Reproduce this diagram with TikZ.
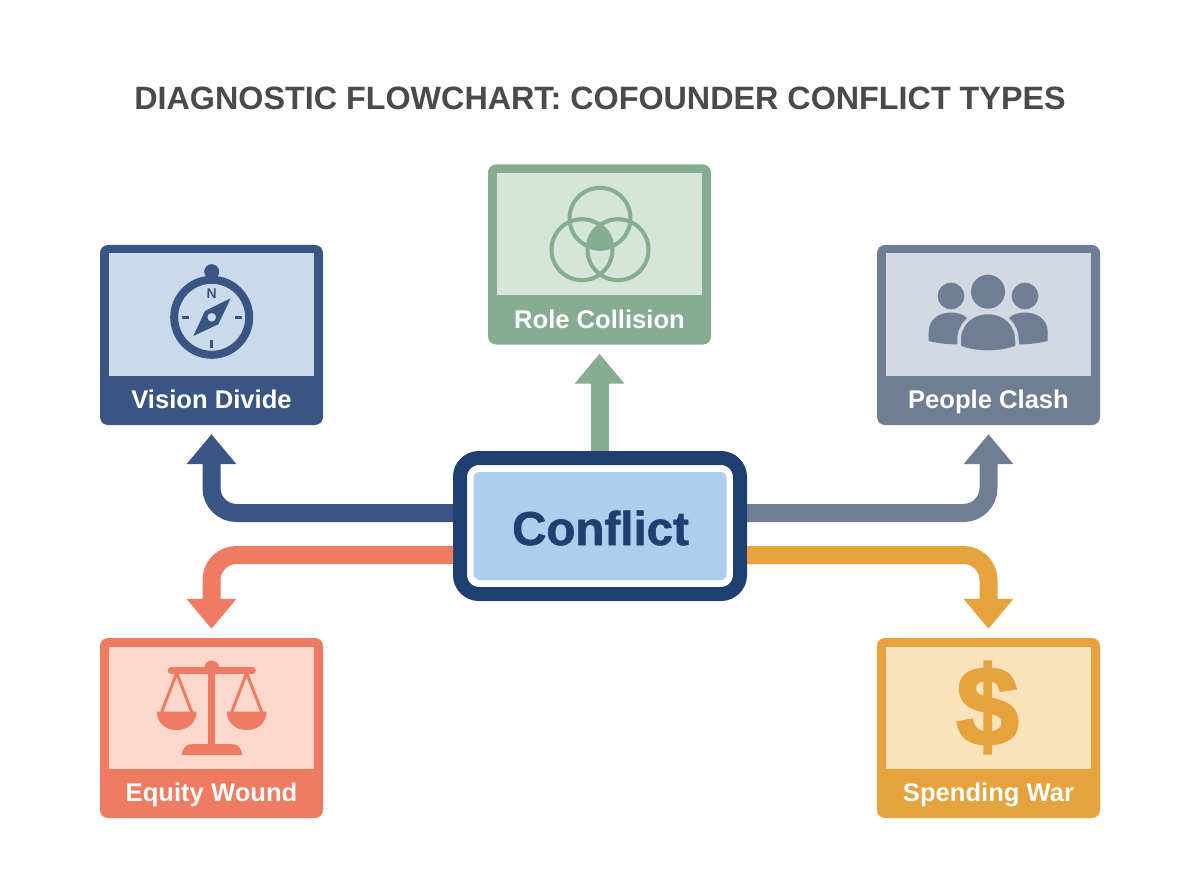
\documentclass[tikz,border=0pt]{standalone}
\usepackage{fontspec}
\setmainfont{Liberation Sans}
\newfontfamily\coreFont[BoldFeatures={FakeBold=1.2}]{Liberation Sans}
\newfontfamily\iconFont[BoldFeatures={FakeBold=2.6}]{Liberation Sans}
\usetikzlibrary{arrows.meta}
\definecolor{textGray}{HTML}{4A4A48}
\definecolor{coreNavy}{HTML}{1F3F70}
\definecolor{coreFill}{HTML}{ADCEEC}
\definecolor{visionMain}{HTML}{3A5583}
\definecolor{visionTint}{HTML}{C9DAEC}
\definecolor{roleMain}{HTML}{86AC91}
\definecolor{roleTint}{HTML}{D6E5DA}
\definecolor{peopleMain}{HTML}{6F7E94}
\definecolor{peopleTint}{HTML}{D3D9E2}
\definecolor{equityMain}{HTML}{EE7B62}
\definecolor{equityTint}{HTML}{FBD7CC}
\definecolor{spendMain}{HTML}{E5A23D}
\definecolor{spendTint}{HTML}{FAE2BA}
\tikzset{
    TitleText/.style={font=\fontsize{32.3}{40}\selectfont\bfseries, text=textGray},
    CardText/.style={font=\fontsize{25.6}{30}\selectfont\bfseries, text=white, anchor=base},
    CoreText/.style={font=\coreFont\fontsize{47.5}{60}\selectfont\bfseries, text=coreNavy, anchor=base},
    CardBox/.style={rounded corners=8pt, minimum width=223pt, minimum height=180pt, inner sep=0pt},
    CardPanel/.style={minimum width=205pt, minimum height=122pt, inner sep=0pt, anchor=north},
    LinkArrow/.style={-{Triangle[width=48pt, length=30pt]}, line width=18pt, rounded corners=25pt, shorten >=9pt}
}

\begin{document}
\begin{tikzpicture}[x=1pt, y=-1pt]
    \useasboundingbox (0, 0) rectangle (1200, 896);
    \node[TitleText, anchor=base] (title) at (600, 110) {DIAGNOSTIC FLOWCHART: COFOUNDER CONFLICT TYPES};

    % five cards
    \foreach \name/\x/\y/\txt/\colMain/\colTint in {
        vision/211.5/335/Vision Divide/visionMain/visionTint,
        role/599.5/254.5/Role Collision/roleMain/roleTint,
        people/988.5/335/People Clash/peopleMain/peopleTint,
        equity/211.5/728/Equity Wound/equityMain/equityTint,
        spend/988.5/728/Spending War/spendMain/spendTint} {
        \node[CardBox, fill=\colMain] (\name) at (\x, \y) {};
        \node[CardPanel, fill=\colTint] (\name panel) at ([yshift=-8.5pt]\name.north) {};
        \node[CardText] (\name text) at ([yshift=16.7pt]\name.south) {\txt};
    }

    % centre box
    \node[draw=coreNavy, line width=14pt, rounded corners=19pt, minimum width=280pt, minimum height=136pt, inner sep=0pt] (conflict) at (600, 526) {};
    \node[fill=coreFill, rounded corners=6pt, minimum width=253pt, minimum height=108pt, inner sep=0pt] (conflictpanel) at (600, 526) {};
    \node[CoreText] (conflicttext) at (600.5, 545) {Conflict};

    % arrows out of the centre box
    \draw[LinkArrow, roleMain] (conflict.north -| role.south) -- (role.south);
    \draw[LinkArrow, visionMain] ([yshift=13pt]conflict.west) -| (vision.south);
    \draw[LinkArrow, peopleMain] ([yshift=13pt]conflict.east) -| (people.south);
    \draw[LinkArrow, equityMain] ([yshift=-29pt]conflict.west) -| (equity.north);
    \draw[LinkArrow, spendMain] ([yshift=-29pt]conflict.east) -| (spend.north);

    % compass
    \fill[visionMain] (211.7, 271.7) circle (7.5);
    \draw[visionMain, line width=8pt] (211.7, 317.3) circle (37.5);
    \node[font=\fontsize{14}{18}\selectfont\bfseries, text=visionMain] (compassn) at (211.7, 293.5) {N};
    \draw[visionMain, line width=2.6pt] (182, 317.3) -- (189, 317.3) (235, 317.3) -- (242, 317.3) (211.7, 340) -- (211.7, 348);
    \fill[visionMain] (230.7, 298.3) -- (218.3, 324.3) -- (193.3, 336) -- (205, 311) -- cycle;
    \fill[visionTint] (211.7, 317.3) circle (4.3);

    % three rings
    \begin{scope}
        \clip (600, 218.3) circle (30.5);
        \clip (582, 249.7) circle (30.5);
        \fill[roleMain] (618, 249.7) circle (30.5);
    \end{scope}
    \foreach \cx/\cy in {600/218.3, 582/249.7, 618/249.7} {
        \draw[roleMain, line width=4pt] (\cx, \cy) circle (30.5);
    }

    % three people
    \fill[peopleMain] (988, 291.7) circle (17) (951, 296) circle (13.3) (1025, 296) circle (13.3);
    \fill[peopleMain] (928.7, 341) -- (928.7, 332) .. controls (928.7, 320) and (938, 312.5) .. (951, 312.5)
        .. controls (964, 312.5) and (973, 320) .. (973, 332) -- (973, 344) .. controls (958, 345) and (942, 344.5) .. (928.7, 341) -- cycle;
    \fill[peopleMain] (1047.7, 341) -- (1047.7, 332) .. controls (1047.7, 320) and (1038, 312.5) .. (1025, 312.5)
        .. controls (1012, 312.5) and (1003, 320) .. (1003, 332) -- (1003, 344) .. controls (1018, 345) and (1034, 344.5) .. (1047.7, 341) -- cycle;
    \draw[peopleTint, fill=peopleMain, line width=3.5pt] (959, 347) -- (959, 341) .. controls (959, 324) and (971, 312.5) .. (988, 312.5)
        .. controls (1005, 312.5) and (1017, 324) .. (1017, 341) -- (1017, 347) .. controls (1000, 354) and (976, 354) .. (959, 347) -- cycle;

    % scales
    \draw[equityMain, line width=6.5pt, line cap=round] (171, 670.7) -- (252.5, 670.7);
    \fill[equityMain] (211.7, 668) circle (7.5);
    \fill[equityMain] (208.2, 670) rectangle (215.2, 746);
    \fill[equityMain] (181.7, 755) .. controls (182.5, 748) and (186, 744) .. (193, 744) -- (231, 744) .. controls (238, 744) and (241.5, 748) .. (242.3, 755) -- cycle;
    \foreach \px in {176.7, 246.7} {
        \draw[equityMain, line width=3pt, line join=round] (\px-15, 712) -- (\px, 673) -- (\px+15, 712);
        \fill[equityMain] (\px-20, 711.7) -- (\px+20, 711.7) .. controls (\px+19.5, 722) and (\px+12, 730) .. (\px, 730) .. controls (\px-12, 730) and (\px-19.5, 722) .. (\px-20, 711.7) -- cycle;
    }

    % dollar sign
    \node[font=\iconFont\fontsize{112}{120}\selectfont\bfseries, text=spendMain, inner sep=0pt] (dollar) at (987.5, 707.5) {\$};
\end{tikzpicture}
\end{document}
